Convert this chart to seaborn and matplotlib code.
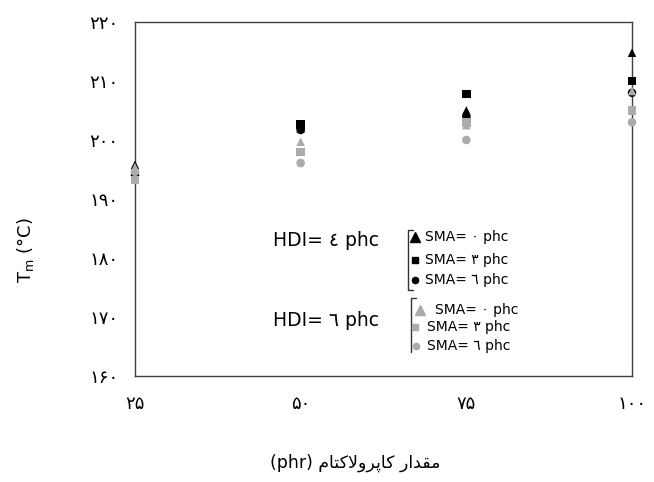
import pandas as pd
import numpy as np
import matplotlib
matplotlib.use("Agg")
import matplotlib.pyplot as plt
import seaborn as sns

# caprolactam content (phr) and melting temperature Tm for each HDI / SMA series
caprolactam = [25, 50, 75, 100]
x_labels = ["۲۵", "۵۰", "۷۵", "۱۰۰"]
y_ticks = [160, 170, 180, 190, 200, 210, 220]
y_labels = ["۱۶۰", "۱۷۰", "۱۸۰", "۱۹۰", "۲۰۰", "۲۱۰", "۲۲۰"]

hdi4_sma0 = [195.8, 202.0, 205.0, 214.8]
hdi4_sma3 = [193.8, 202.6, 207.8, 210.0]
hdi4_sma6 = [194.0, 201.7, 204.0, 208.0]
hdi6_sma0 = [195.4, 199.7, 202.5, 208.3]
hdi6_sma3 = [193.2, 198.0, 203.0, 205.0]
hdi6_sma6 = [194.6, 196.1, 200.0, 203.0]

series = {
    ("4", "0"): hdi4_sma0, ("4", "3"): hdi4_sma3, ("4", "6"): hdi4_sma6,
    ("6", "0"): hdi6_sma0, ("6", "3"): hdi6_sma3, ("6", "6"): hdi6_sma6,
}
rows = []
for (hdi, sma), vals in series.items():
    for x, v in zip(caprolactam, vals):
        rows.append({"phr": x, "Tm": v, "HDI": hdi, "SMA": sma})
df = pd.DataFrame(rows)

black = "#000000"
grey = "#ababab"

sns.set_style("white")
plt.rcParams["font.family"] = ["DejaVu Sans"]
plt.rcParams["text.color"] = "black"
plt.rcParams["xtick.color"] = "black"
plt.rcParams["ytick.color"] = "black"

fig = plt.figure(figsize=(6.54, 4.82), dpi=100)
ax = fig.add_axes([0.2064, 0.2199, 0.76, 0.7345])

sns.scatterplot(data=df, x="phr", y="Tm", hue="HDI", style="SMA",
                palette={"4": black, "6": grey},
                markers={"0": "^", "3": "s", "6": "o"},
                s=38, edgecolor="none", legend=False, clip_on=False, ax=ax, zorder=3)

ax.set_xlim(25, 100)
ax.set_ylim(160, 220)
ax.set_xticks(caprolactam)
ax.set_xticklabels(x_labels, fontsize=13)
ax.set_yticks(y_ticks)
ax.set_yticklabels(y_labels, fontsize=13)
ax.tick_params(axis="both", direction="in", length=3, color="#c8c8c8")
ax.tick_params(axis="y", pad=12)
ax.tick_params(axis="x", pad=14)
ax.set_xlabel("")
ax.set_ylabel("")
for sp in ax.spines.values():
    sp.set_color("#404040")
    sp.set_linewidth(1.0)

# axis titles
fig.text(25 / 654, 232 / 482, r"T$_\mathrm{m}$ (°C)", rotation=90, fontsize=13,
         ha="center", va="center")
persian = ("\uFEE1\uFE8E\uFE98\uFB90\uFEFB\uFEED\uFEAE\uFB58\uFE8E\uFB90"
           " \uFEAD\uFE8D\uFEAA\uFED8\uFEE3")
fig.text(355 / 654, 19 / 482, "(phr) " + persian, fontsize=12.5, ha="center", va="center")

# hand-made legend
tr = ax.transAxes
ax.text(0.278, 0.384, "HDI= ٤ phc", transform=tr, fontsize=13.5, ha="left", va="center")
ax.text(0.278, 0.158, "HDI= ٦ phc", transform=tr, fontsize=13.5, ha="left", va="center")

ax.plot([0.559, 0.549, 0.549, 0.559], [0.412, 0.412, 0.243, 0.243],
        transform=tr, color="#333333", lw=1.0)
ax.plot([0.565, 0.555, 0.555], [0.220, 0.220, 0.068],
        transform=tr, color="#333333", lw=1.0)

entries = [
    ("^", black, 0.563, 0.393, 0.583, "SMA= ٠ phc", 6.5),
    ("s", black, 0.563, 0.328, 0.583, "SMA= ٣ phc", 4.5),
    ("o", black, 0.563, 0.271, 0.583, "SMA= ٦ phc", 4.5),
    ("^", grey, 0.573, 0.186, 0.604, "SMA= ٠ phc", 7),
    ("s", grey, 0.563, 0.138, 0.588, "SMA= ٣ phc", 4.5),
    ("o", grey, 0.565, 0.085, 0.588, "SMA= ٦ phc", 4.5),
]
for m, c, mx, my, tx, label, ms in entries:
    ax.plot([mx], [my], marker=m, color=c, markersize=ms, transform=tr, linestyle="none")
    ax.text(tx, my, label, transform=tr, fontsize=10, ha="left", va="center")

plt.savefig("out.png", dpi=100)
